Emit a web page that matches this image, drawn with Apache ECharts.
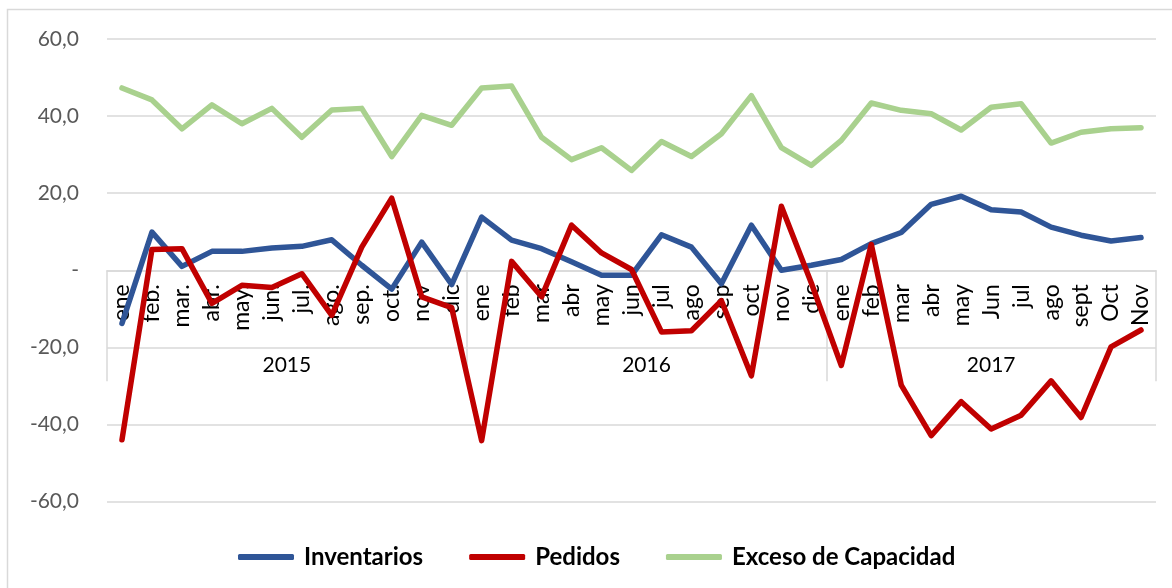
<!DOCTYPE html>
<html>
<head>
<meta charset="utf-8">
<script src="https://cdn.jsdelivr.net/npm/echarts@6/dist/echarts.min.js"></script>
<style>
  html, body { margin: 0; padding: 0; background: #fff; }
  #chart { width: 1172px; height: 588px; }
</style>
</head>
<body>
<div id="chart"></div>
<script>
// meses (eje de categorías)
var months = [
  'ene', 'feb.', 'mar.', 'abr.', 'may.', 'jun.', 'jul.', 'ago.', 'sep.', 'oct.', 'nov', 'dic',
  'ene', 'feb', 'mar', 'abr', 'may', 'jun', 'jul', 'ago', 'sep', 'oct', 'nov', 'dic',
  'ene', 'feb', 'mar', 'abr', 'may', 'Jun', 'jul', 'ago', 'sept', 'Oct', 'Nov'
];
var years = ['2015', '2016', '2017'];
var yearCounts = [12, 12, 11];

var inventarios = [
  -13.8, 9.9, 1.0, 4.9, 4.9, 5.8, 6.2, 7.9, 1.3, -4.9, 7.3, -3.7,
  13.8, 7.8, 5.6, 2.2, -1.3, -1.3, 9.2, 6.0, -3.5, 11.7, 0.0, 1.3,
  2.8, 6.9, 9.8, 17.1, 19.2, 15.7, 15.1, 11.2, 9.1, 7.6, 8.5
];
var pedidos = [
  -44.0, 5.4, 5.6, -8.6, -3.9, -4.5, -0.9, -11.7, 6.0, 18.7, -6.9, -9.7,
  -44.2, 2.3, -6.9, 11.7, 4.5, 0.2, -16.0, -15.7, -7.9, -27.4, 16.6, -3.3,
  -24.7, 6.7, -29.8, -42.9, -34.1, -41.2, -37.6, -28.7, -38.2, -19.9, -15.5
];
var exceso = [
  47.3, 44.2, 36.7, 42.9, 38.0, 42.0, 34.5, 41.6, 42.0, 29.5, 40.2, 37.6,
  47.3, 47.8, 34.5, 28.7, 31.8, 25.9, 33.4, 29.5, 35.4, 45.3, 31.8, 27.2,
  33.7, 43.4, 41.5, 40.6, 36.4, 42.3, 43.2, 33.0, 35.8, 36.7, 37.0
];

var yTicks = [-60, -40, -20, 0, 20, 40, 60];
var yTickLabels = ['-60,0', '-40,0', '-20,0', '-', '20,0', '40,0', '60,0'];

// límites de cada año y posición central de su etiqueta
var yearBounds = [0];
var yearCenters = [];
yearCounts.forEach(function (n, i) {
  yearCenters.push(yearBounds[i] + n / 2);
  yearBounds.push(yearBounds[i] + n);
});

var chart = echarts.init(document.getElementById('chart'));

var font = 'Lato, "Open Sans", sans-serif';
// distancia del borde inferior de la rejilla hasta la línea del cero
var zeroOffset = -231.25;

var option = {
  animation: false,
  grid: { left: 107, right: 16, top: 39, bottom: 86.5, containLabel: false },
  graphic: [{
    type: 'rect',
    shape: { x: 7.5, y: 9.5, width: 1300, height: 700 },
    style: { fill: 'none', stroke: '#d9d9d9', lineWidth: 1.5 },
    silent: true
  }],
  legend: {
    left: 233,
    top: 540,
    icon: 'roundRect',
    itemWidth: 56,
    itemHeight: 6,
    itemGap: 46,
    textStyle: { fontFamily: font, fontWeight: 'bold', fontSize: 24, color: '#000', padding: [0, 0, 0, 5] },
    data: ['Inventarios', 'Pedidos', 'Exceso de Capacidad']
  },
  xAxis: [{
    type: 'category',
    data: months,
    boundaryGap: true,
    position: 'bottom',
    offset: zeroOffset,
    axisLine: { onZero: false, lineStyle: { color: '#d9d9d9', width: 1.5 } },
    axisTick: { show: false },
    axisLabel: {
      interval: 0,
      rotate: 90,
      margin: 14,
      fontFamily: font,
      fontSize: 23,
      color: '#000'
    }
  }, {
    type: 'value',
    min: 0,
    max: yearBounds[yearBounds.length - 1],
    position: 'bottom',
    offset: zeroOffset,
    axisLine: { show: false, onZero: false },
    splitLine: { show: false },
    axisTick: {
      show: true,
      inside: false,
      length: 111,
      customValues: yearBounds,
      lineStyle: { color: '#d9d9d9', width: 1.5 }
    },
    axisLabel: {
      customValues: yearCenters,
      margin: 84,
      fontFamily: font,
      fontSize: 21,
      color: '#000',
      formatter: function (v) {
        var i = yearCenters.indexOf(v);
        return i >= 0 ? years[i] : '';
      }
    }
  }],
  yAxis: {
    type: 'value',
    min: -60,
    max: 60,
    interval: 20,
    axisLine: { show: false },
    axisTick: { show: false },
    splitLine: { lineStyle: { color: '#d9d9d9', width: 1.5 } },
    axisLabel: {
      margin: 28,
      fontFamily: font,
      fontSize: 21,
      color: '#595959',
      formatter: function (v) {
        var i = yTicks.indexOf(v);
        return i >= 0 ? yTickLabels[i] : '';
      }
    }
  },
  series: [{
    name: 'Inventarios',
    type: 'line',
    data: inventarios,
    symbol: 'none',
    itemStyle: { color: '#2f5597' },
    lineStyle: { color: '#2f5597', width: 5.5, cap: 'round', join: 'round' }
  }, {
    name: 'Pedidos',
    type: 'line',
    data: pedidos,
    symbol: 'none',
    itemStyle: { color: '#c00000' },
    lineStyle: { color: '#c00000', width: 5.5, cap: 'round', join: 'round' }
  }, {
    name: 'Exceso de Capacidad',
    type: 'line',
    data: exceso,
    symbol: 'none',
    itemStyle: { color: '#a9d18e' },
    lineStyle: { color: '#a9d18e', width: 5.5, cap: 'round', join: 'round' }
  }]
};

chart.setOption(option);
</script>
</body>
</html>
